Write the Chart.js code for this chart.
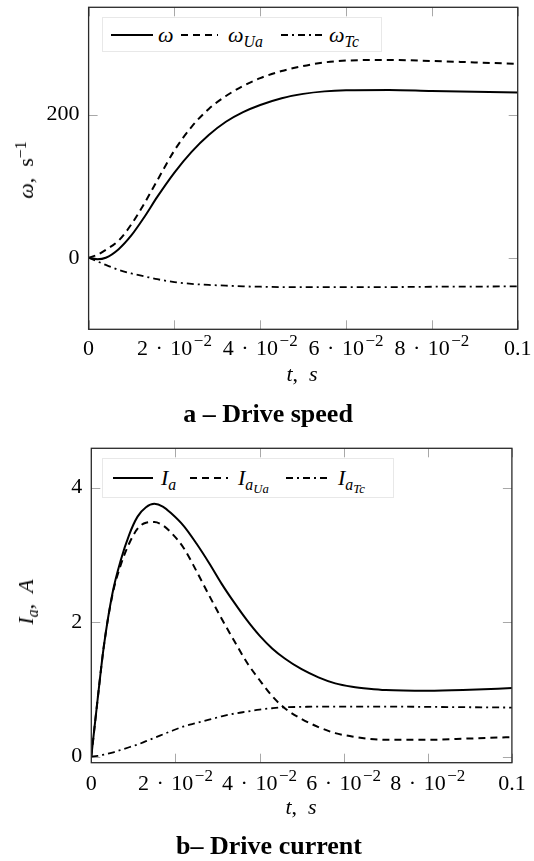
<!DOCTYPE html>
<html>
<head>
<meta charset="utf-8">
<script src="https://cdn.jsdelivr.net/npm/chart.js@4.4.1/dist/chart.umd.min.js"></script>
<style>
    html, body { margin: 0; padding: 0; background: #fff; }
    body { width: 534px; height: 861px; position: relative; overflow: hidden; font-family: "Liberation Serif", "Times New Roman", Times, serif; color: #000; }
    canvas { position: absolute; left: 0; }
    .lbl { position: absolute; white-space: nowrap; font-size: 22px; line-height: 1; transform: translate(-50%, -50%); }
    .ytitle { transform: translate(-50%, -50%) rotate(-90deg); }
    .caption { font-weight: bold; font-size: 26px; }
    .legend { position: absolute; border: 1px solid #e8e8e8; background: #fff; box-sizing: border-box; }
    .legend svg, .legend .item { position: absolute; top: 50%; transform: translateY(-50%); }
    .legend .item { font-size: 22px; line-height: 1; white-space: nowrap; }
    i { font-style: italic; }
    sub { font-size: 0.72em; vertical-align: -0.3em; line-height: 0; }
    sub sub { font-size: 0.8em; vertical-align: -0.25em; }
    sup { font-size: 0.72em; vertical-align: 0.45em; line-height: 0; }
</style>
</head>
<body>
<canvas id="speedChart" width="534" height="370" style="top:0px"></canvas>
<canvas id="currentChart" width="534" height="370" style="top:440px"></canvas>

<!-- legend a -->
<div class="legend" style="left:102px; top:17px; width:280px; height:35px;">
    <svg style="left:8px" width="42" height="4"><line x1="0" y1="2" x2="42" y2="2" stroke="#000" stroke-width="2"/></svg>
    <span class="item" style="left:55px"><i>ω</i></span>
    <svg style="left:78px" width="37" height="4"><line x1="0" y1="2" x2="37" y2="2" stroke="#000" stroke-width="2" stroke-dasharray="7 5"/></svg>
    <span class="item" style="left:125px"><i>ω<sub>Ua</sub></i></span>
    <svg style="left:178px" width="45" height="4"><line x1="0" y1="2" x2="45" y2="2" stroke="#000" stroke-width="1.8" stroke-dasharray="7 4 2 4"/></svg>
    <span class="item" style="left:226px"><i>ω<sub>Tc</sub></i></span>
</div>

<!-- legend b -->
<div class="legend" style="left:102px; top:458px; width:292px; height:40px;">
    <svg style="left:10px" width="40" height="4"><line x1="0" y1="2" x2="40" y2="2" stroke="#000" stroke-width="2"/></svg>
    <span class="item" style="left:58px"><i>I<sub>a</sub></i></span>
    <svg style="left:87px" width="38" height="4"><line x1="0" y1="2" x2="38" y2="2" stroke="#000" stroke-width="2" stroke-dasharray="7 5"/></svg>
    <span class="item" style="left:135px"><i>I<sub>a<sub>Ua</sub></sub></i></span>
    <svg style="left:183px" width="45" height="4"><line x1="0" y1="2" x2="45" y2="2" stroke="#000" stroke-width="1.8" stroke-dasharray="7 4 2 4"/></svg>
    <span class="item" style="left:235px"><i>I<sub>a<sub>Tc</sub></sub></i></span>
</div>

<div class="lbl ytitle" style="left:26px; top:170px;"><i>ω</i>, &nbsp;s<sup>−1</sup></div>
<div class="lbl" style="left:302px; top:374px;"><i>t</i>, &nbsp;<i>s</i></div>
<div class="lbl caption" style="left:268px; top:414px;">a – Drive speed</div>

<div class="lbl ytitle" style="left:26px; top:602px;"><i>I<sub>a</sub></i>, &nbsp;<i>A</i></div>
<div class="lbl" style="left:301px; top:807px;"><i>t</i>, &nbsp;<i>s</i></div>
<div class="lbl caption" style="left:269px; top:846px;">b– Drive current</div>

<script>
// ---- data ----
var speedTime = [0, 0.002, 0.004, 0.007, 0.01, 0.013, 0.016, 0.02, 0.024, 0.028, 0.032, 0.036, 0.04, 0.045, 0.05, 0.055, 0.06, 0.07, 0.08, 0.09, 0.1];
var omega     = [0, -2, 0, 12, 31.5, 57, 85, 119, 148, 171.5, 190, 203.5, 213.5, 223, 229, 232.5, 234, 234.5, 233, 232, 231];
var omegaUa   = [0, 4, 11, 24, 47, 76, 108, 150, 183, 208, 226, 240, 251, 261, 268, 273, 275.5, 276.5, 275, 273, 271];
var omegaTc   = [0, -5, -10, -17, -22, -26, -30, -34, -36.5, -38, -39, -40, -40.5, -41, -41, -41, -41, -41, -40.5, -40.3, -40];

var currentTime = [0, 0.0015, 0.003, 0.005, 0.007, 0.009, 0.011, 0.013, 0.015, 0.017, 0.019, 0.022, 0.025, 0.028, 0.031, 0.034, 0.037, 0.04, 0.043, 0.046, 0.05, 0.054, 0.058, 0.062, 0.066, 0.07, 0.08, 0.09, 0.1];
var currentIa   = [0, 0.85, 1.65, 2.42, 2.92, 3.3, 3.57, 3.71, 3.76, 3.72, 3.62, 3.43, 3.17, 2.88, 2.57, 2.29, 2.03, 1.8, 1.61, 1.46, 1.3, 1.18, 1.09, 1.04, 1.01, 0.99, 0.98, 0.995, 1.02];
var currentIaUa = [0, 0.85, 1.65, 2.4, 2.85, 3.17, 3.39, 3.48, 3.49, 3.44, 3.33, 3.1, 2.76, 2.4, 2.05, 1.72, 1.4, 1.14, 0.9, 0.72, 0.56, 0.44, 0.35, 0.3, 0.265, 0.25, 0.25, 0.27, 0.29];
var currentIaTc = [0, 0.01, 0.03, 0.06, 0.1, 0.14, 0.18, 0.23, 0.28, 0.33, 0.38, 0.45, 0.5, 0.55, 0.6, 0.64, 0.67, 0.7, 0.72, 0.735, 0.74, 0.745, 0.745, 0.745, 0.745, 0.745, 0.74, 0.735, 0.73];

// x tick labels: mantissa · 10^exponent (empty exponent = plain number)
var xTickValues   = [0, 0.02, 0.04, 0.06, 0.08, 0.1];
var xTickMantissa = ['0', '2', '4', '6', '8', '0.1'];
var xTickExponent = ['', '−2', '−2', '−2', '−2', ''];
var speedTicks = [0, 200];
var currentTicks = [0, 2, 4];

var serif = '"Liberation Serif", "Times New Roman", Times, serif';
var tickFont = { family: serif, size: 22 };

function toPoints(t, v) {
    return t.map(function (x, i) { return { x: x, y: v[i] }; });
}

function lineSet(label, t, v, dash, width) {
    return {
        label: label,
        data: toPoints(t, v),
        borderColor: '#000',
        borderWidth: width,
        borderDash: dash,
        pointRadius: 0,
        fill: false,
        cubicInterpolationMode: 'monotone'
    };
}

// pgfplots-like frame with inward gray tick marks on all four sides
var framePlugin = {
    id: 'frame',
    beforeDatasetsDraw: function (chart) {
        var a = chart.chartArea, ctx = chart.ctx, len = 9;
        ctx.save();
        ctx.strokeStyle = '#a8a8a8';
        ctx.lineWidth = 1;
        ctx.beginPath();
        chart.scales.x.ticks.forEach(function (tk) {
            var px = Math.round(chart.scales.x.getPixelForValue(tk.value)) + 0.5;
            ctx.moveTo(px, a.bottom); ctx.lineTo(px, a.bottom - len);
            ctx.moveTo(px, a.top); ctx.lineTo(px, a.top + len);
        });
        chart.scales.y.ticks.forEach(function (tk) {
            var py = Math.round(chart.scales.y.getPixelForValue(tk.value)) + 0.5;
            ctx.moveTo(a.left, py); ctx.lineTo(a.left + len, py);
            ctx.moveTo(a.right, py); ctx.lineTo(a.right - len, py);
        });
        ctx.stroke();
        ctx.restore();
    },
    afterDatasetsDraw: function (chart) {
        var a = chart.chartArea, ctx = chart.ctx;
        ctx.save();
        ctx.strokeStyle = '#2a2a2a';
        ctx.lineWidth = 1.3;
        ctx.strokeRect(a.left, a.top, a.right - a.left, a.bottom - a.top);
        ctx.restore();
    }
};

// x tick labels with a real superscript exponent
var sciTicksPlugin = {
    id: 'sciTicks',
    afterDraw: function (chart, args, opts) {
        var ctx = chart.ctx, xs = chart.scales.x;
        var base = chart.chartArea.bottom + opts.offset;
        var big = '22px ' + serif, small = '17px ' + serif;
        ctx.save();
        ctx.fillStyle = '#000';
        ctx.textBaseline = 'alphabetic';
        ctx.textAlign = 'left';
        xTickValues.forEach(function (v, i) {
            var px = xs.getPixelForValue(v);
            var m = xTickMantissa[i], e = xTickExponent[i];
            ctx.font = big;
            if (!e) {
                var w = ctx.measureText(m).width;
                ctx.fillText(m, px - w / 2, base);
                return;
            }
            var wm = ctx.measureText(m).width;
            var wd = ctx.measureText('·').width;
            var wt = ctx.measureText('10').width;
            ctx.font = small;
            var we = ctx.measureText(e).width;
            var gap = 7.5;
            var total = wm + gap + wd + gap + wt + 1.5 + we;
            var x0 = px - total / 2;
            ctx.font = big;
            ctx.fillText(m, x0, base);
            ctx.fillText('·', x0 + wm + gap, base);
            ctx.fillText('10', x0 + wm + gap + wd + gap, base);
            ctx.font = small;
            ctx.fillText(e, x0 + wm + gap + wd + gap + wt + 1.5, base - 9);
        });
        ctx.restore();
    }
};

function makeChart(id, datasets, yMin, yMax, yTicks, box) {
    return new Chart(document.getElementById(id), {
        type: 'line',
        data: { datasets: datasets },
        plugins: [framePlugin, sciTicksPlugin],
        options: {
            responsive: false,
            animation: false,
            layout: { padding: { top: box.top, right: box.right, left: 0, bottom: 0 } },
            plugins: {
                legend: { display: false },
                tooltip: { enabled: false },
                sciTicks: { offset: box.labelOffset }
            },
            scales: {
                x: {
                    type: 'linear',
                    min: 0,
                    max: 0.1,
                    afterBuildTicks: function (scale) {
                        scale.ticks = xTickValues.map(function (v) { return { value: v }; });
                    },
                    afterFit: function (scale) {
                        scale.height = box.xHeight;
                        scale.paddingLeft = 0;
                        scale.paddingRight = 0;
                    },
                    grid: { display: false, drawTicks: false },
                    border: { display: false },
                    ticks: { display: false }
                },
                y: {
                    min: yMin,
                    max: yMax,
                    afterBuildTicks: function (scale) {
                        scale.ticks = yTicks.map(function (v) { return { value: v }; });
                    },
                    afterFit: function (scale) {
                        scale.width = box.yWidth;
                        scale.paddingTop = 0;
                        scale.paddingBottom = 0;
                    },
                    grid: { display: false, drawTicks: false },
                    border: { display: false },
                    ticks: {
                        padding: 9,
                        color: '#000',
                        font: tickFont,
                        callback: function (value) { return String(value); }
                    }
                }
            }
        }
    });
}

makeChart('speedChart', [
    lineSet('ω', speedTime, omega, [], 2),
    lineSet('ωUa', speedTime, omegaUa, [7, 5], 2),
    lineSet('ωTc', speedTime, omegaTc, [7, 4, 2, 4], 1.8)
], -100, 350, speedTicks, { top: 7.3, right: 16.3, yWidth: 88.6, xHeight: 40.7, labelOffset: 25.2 });

makeChart('currentChart', [
    lineSet('Ia', currentTime, currentIa, [], 2),
    lineSet('IaUa', currentTime, currentIaUa, [7, 5], 2),
    lineSet('IaTc', currentTime, currentIaTc, [7, 4, 2, 4], 1.8)
], -0.09, 4.586, currentTicks, { top: 8.3, right: 22.1, yWidth: 91.3, xHeight: 47.3, labelOffset: 27.5 });
</script>
</body>
</html>
